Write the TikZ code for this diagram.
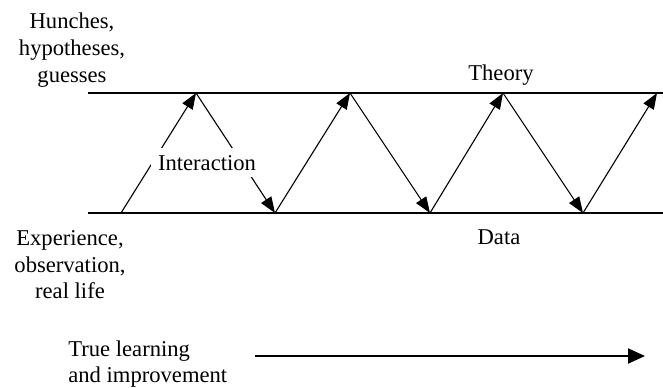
\documentclass[tikz,border=0pt]{standalone}
\usepackage{fontspec}
\setmainfont{Liberation Serif}
\usetikzlibrary{arrows.meta}

\begin{document}
\begin{tikzpicture}[
		x=0.5pt, y=-0.5pt,
		font=\fontsize{11.3}{13.3}\selectfont,
		% Styles
		railLine/.style={line width=0.55pt},
		zigArrow/.style={-{Triangle[length=8pt, width=6pt]}, line width=0.55pt},
		progressArrow/.style={-{Triangle[length=8.5pt, width=7.5pt]}, line width=1pt},
		levelText/.style={inner sep=0pt, align=center}
		]
		\useasboundingbox (0,0) rectangle (663,387);
		
		% =========================================================
		% 1. THE TWO LEVELS (Theory above, Data below)
		% =========================================================
		\coordinate (TopLeft) at (88, 93);
		\coordinate (TopRight) at (663, 93);
		\coordinate (BotLeft) at (88, 213);
		\coordinate (BotRight) at (663, 213);
		\draw[railLine] (TopLeft) -- (TopRight);
		\draw[railLine] (BotLeft) -- (BotRight);
		
		\node[levelText] (Hunches) at (72, 50) {Hunches,\\ hypotheses,\\ guesses};
		\node[levelText, anchor=base] (Theory) at (501, 80) {Theory};
		\node[levelText] (Experience) at (70, 265) {Experience,\\ observation,\\ real life};
		\node[levelText, anchor=base] (Data) at (499, 244) {Data};
		
		% =========================================================
		% 2. THE ZIGZAG (Interaction between the levels)
		% =========================================================
		\coordinate (Low0) at (121, 213);
		\coordinate (High1) at (196, 93);
		\coordinate (Low1) at (275, 213);
		\coordinate (High2) at (350, 93);
		\coordinate (Low2) at (430, 213);
		\coordinate (High3) at (503, 93);
		\coordinate (Low3) at (583, 213);
		\coordinate (High4) at (657, 93);
		
		\draw[zigArrow] (Low0) -- (High1);
		\draw[zigArrow] (High1) -- (Low1);
		\draw[zigArrow] (Low1) -- (High2);
		\draw[zigArrow] (High2) -- (Low2);
		\draw[zigArrow] (Low2) -- (High3);
		\draw[zigArrow] (High3) -- (Low3);
		\draw[zigArrow] (Low3) -- (High4);
		
		\node[fill=white, anchor=base] (Interaction) at (207, 170) {Interaction};
		
		% =========================================================
		% 3. PROGRESS OVER TIME
		% =========================================================
		\node[levelText, align=left, anchor=west] (Learning) at (68, 364) {True learning\\ and improvement};
		\coordinate (ProgStart) at (255, 356);
		\coordinate (ProgEnd) at (645, 356);
		\draw[progressArrow] (ProgStart) -- (ProgEnd);
		
	\end{tikzpicture}
\end{document}
